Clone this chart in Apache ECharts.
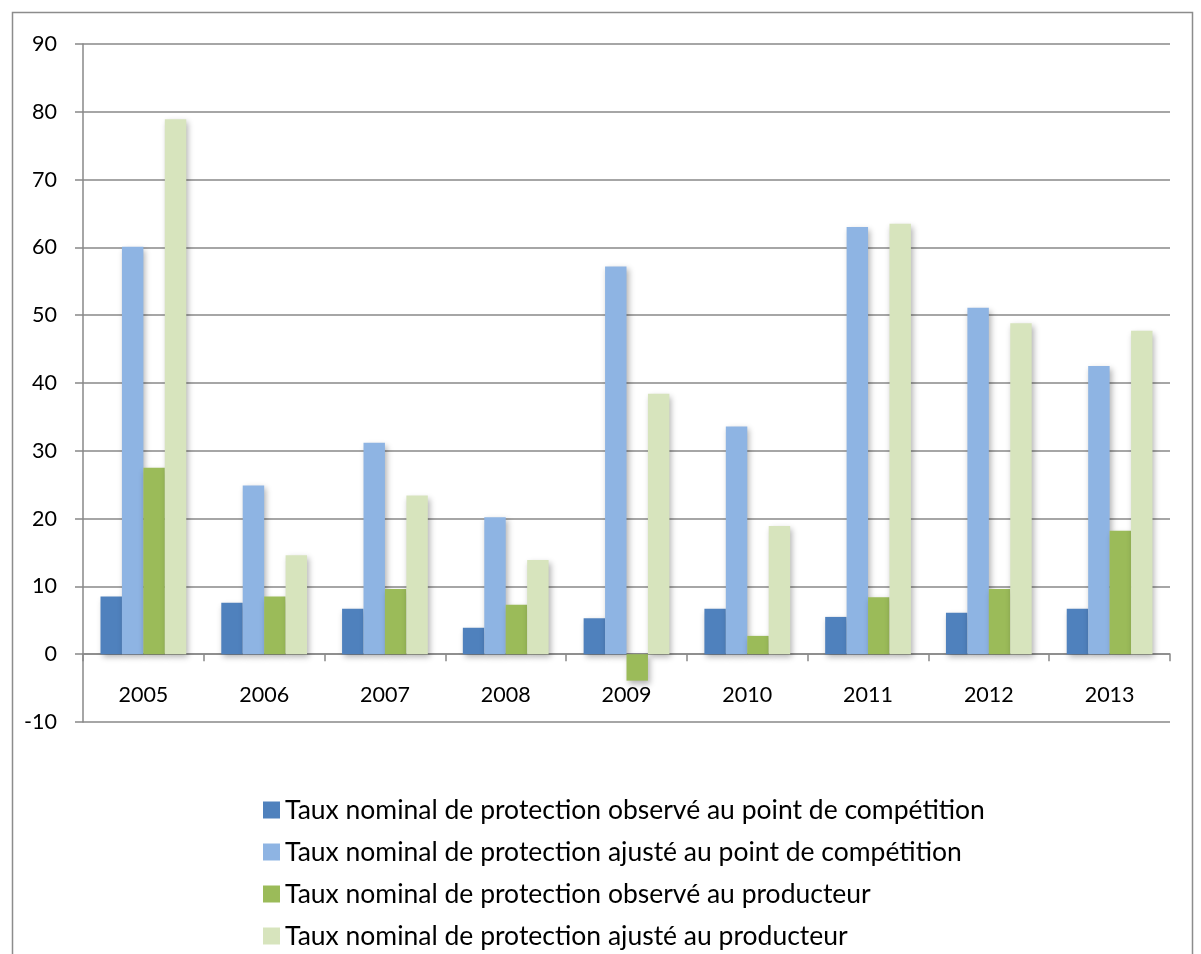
<!DOCTYPE html>
<html><head><meta charset="utf-8">
<script src="https://cdn.jsdelivr.net/npm/echarts@6/dist/echarts.min.js"></script>
<style>html,body{margin:0;padding:0;background:#fff}#c{width:1201px;height:954px}</style>
</head><body><div id="c"></div>
<script>
const years = ['2005','2006','2007','2008','2009','2010','2011','2012','2013'];
const seriesNames = [
  'Taux nominal de protection observé au point de compétition',
  'Taux nominal de protection ajusté au point de compétition',
  'Taux nominal de protection observé au producteur',
  'Taux nominal de protection ajusté au producteur'
];
const observeCompetition = [8.5, 7.6, 6.7, 3.9, 5.3, 6.7, 5.5, 6.1, 6.7];
const ajusteCompetition  = [60.1, 24.9, 31.2, 20.2, 57.2, 33.6, 63.0, 51.1, 42.5];
const observeProducteur  = [27.5, 8.5, 9.6, 7.3, -3.9, 2.7, 8.4, 9.6, 18.2];
const ajusteProducteur   = [78.9, 14.6, 23.4, 13.9, 38.4, 18.9, 63.5, 48.8, 47.7];
const yTicks = [-10, 0, 10, 20, 30, 40, 50, 60, 70, 80, 90];

const colors = ['#4F81BD', '#8EB4E3', '#9BBB59', '#D7E4BD'];
const dataSets = [observeCompetition, ajusteCompetition, observeProducteur, ajusteProducteur];
const font = 'Lato, "Open Sans", sans-serif';

const chart = echarts.init(document.getElementById('c'), null, {renderer: 'canvas'});
chart.setOption({
  animation: false,
  backgroundColor: '#fff',
  color: colors,
  graphic: [{
    type: 'rect', left: 10, top: 10,
    shape: {width: 1180, height: 960},
    style: {fill: 'none', stroke: '#8c8c8c', lineWidth: 1.5}, z: -1
  }],
  grid: {left: 83, right: 31, top: 44, bottom: 232},
  legend: {
    orient: 'vertical', left: 258, top: 791, height: 170,
    itemWidth: 17, itemHeight: 17, itemGap: 14,
    icon: 'rect',
    textStyle: {fontFamily: font, fontSize: 26.5, lineHeight: 28, color: '#000'},
    data: seriesNames
  },
  xAxis: {
    type: 'category', data: years,
    axisLine: {onZero: true, lineStyle: {color: '#888', width: 1.5}},
    axisTick: {show: true, length: 7, lineStyle: {color: '#888', width: 1.5}},
    axisLabel: {fontFamily: font, fontSize: 21.5, color: '#000', margin: -38}
  },
  yAxis: {
    type: 'value', min: -10, max: 90, interval: 10,
    axisLine: {show: true, lineStyle: {color: '#888', width: 1.5}},
    axisTick: {show: true, length: 8, lineStyle: {color: '#888', width: 1.5}},
    axisLabel: {fontFamily: font, fontSize: 21.5, color: '#000', margin: 26,
      formatter: v => yTicks.includes(v) ? String(v) : ''},
    splitLine: {lineStyle: {color: '#888', width: 1.5}}
  },
  series: seriesNames.map((n, i) => ({
    name: n, type: 'bar', data: dataSets[i],
    barGap: '0%', barCategoryGap: '29%',
    itemStyle: {color: colors[i], shadowColor: 'rgba(0,0,0,0.3)', shadowBlur: 6, shadowOffsetX: 2, shadowOffsetY: 3}
  }))
});
</script></body></html>
